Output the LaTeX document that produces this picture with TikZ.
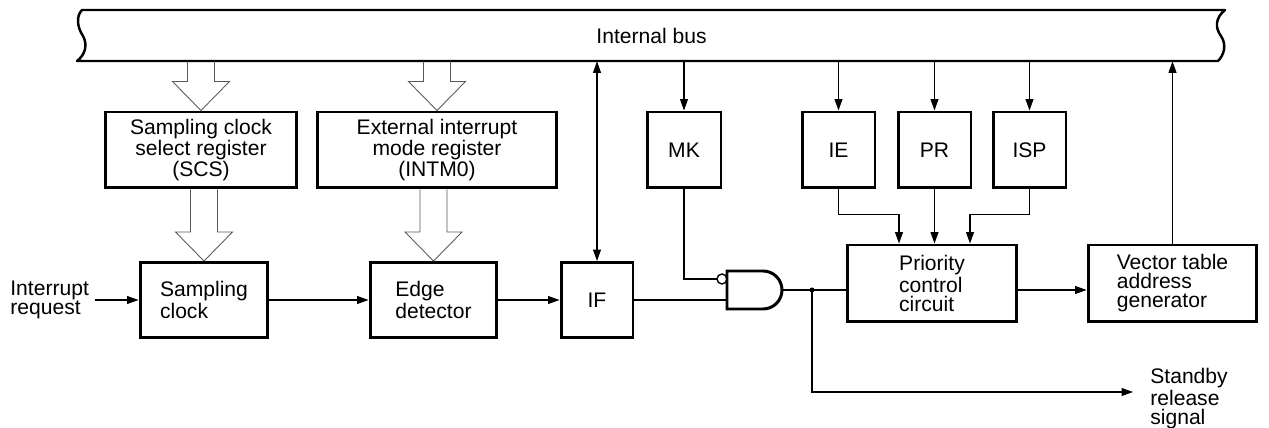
\documentclass[tikz,border=0pt]{standalone}
\usepackage{fontspec}
\setmainfont{Liberation Sans}
\usetikzlibrary{calc,arrows.meta}
\def\fatarrow(#1)(#2){\draw[fatline] ($(#1 -| #2)+(-13.5,0)$) -- ($(#2)+(-13.5,-29)$) -- ++(-15,0) -- (#2) -- ++(28.5,-29) -- ++(-15,0) -- ($(#1 -| #2)+(13.5,0)$);}

\begin{document}
\begin{tikzpicture}[x=0.02cm, y=-0.02cm,
		every node/.style={font=\fontsize{12}{10.8}\selectfont},
		box/.style={draw, line width=1.7pt, minimum height=1.52cm, inner sep=0pt},
		wire/.style={line width=0.6pt},
		conn/.style={line width=0.6pt, -{Triangle[length=6.5pt,width=4.5pt]}},
		fatline/.style={line width=0.5pt, draw=black!65}]
		%%%%% START %%%%%
		\useasboundingbox (0,0) rectangle (1269,428);
		
		\draw[line width=1.4pt, line join=round] (82,10) -- (1225,10) .. controls (1215,18) and (1215,28) .. (1221,36) .. controls (1227,45) and (1224,55) .. (1218,61) -- (77,61) .. controls (85,55) and (88,45) .. (83,36) .. controls (77,27) and (76,16) .. (82,10) -- cycle;
		\node[inner sep=0pt, minimum width=22.86cm, minimum height=1.02cm] (bus) at (651.5,35.5) {Internal bus};
		
		\node[box, minimum width=3.84cm, align=center] (scs) at (201,150) {Sampling clock\\select register\\(SCS)};
		\node[box, minimum width=4.8cm, align=center] (intm) at (437,150) {External interrupt\\mode register\\(INTM0)};
		\node[box, minimum width=1.48cm] (mk) at (684,150) {MK};
		\node[box, minimum width=1.46cm] (ie) at (838.5,150) {IE};
		\node[box, minimum width=1.46cm] (pr) at (934.5,150) {PR};
		\node[box, minimum width=1.46cm] (isp) at (1029.5,150) {ISP};
		
		\node[box, minimum width=2.56cm, minimum height=1.5cm, align=left] (samp) at (204,300) {Sampling\\clock};
		\node[box, minimum width=2.54cm, minimum height=1.5cm, align=left] (edge) at (433.5,300) {Edge\\detector};
		\node[box, minimum width=1.44cm, minimum height=1.5cm] (if) at (597,300) {IF};
		\node[box, minimum width=3.4cm, minimum height=1.54cm, align=left] (prio) at (932,283.5) {Priority\\control\\circuit};
		\node[box, minimum width=3.38cm, minimum height=1.54cm, align=left] (vec) at (1172.5,283.5) {Vector table\\address\\generator};
		
		\node[inner sep=0pt, anchor=west, align=left] (irq) at (10,300) {Interrupt\\request};
		\node[inner sep=0pt, anchor=north west, align=left] (stby) at (1150,368) {Standby\\release\\signal};
		
		% and gate with inverted input
		\coordinate (andin1) at (717,279);
		\coordinate (andin2) at (727,300);
		\coordinate (andout) at (782,290);
		\coordinate (tap) at (812,290);
		\coordinate (stbyend) at (1133,392);
		\draw[line width=1.7pt] (727,271) -- (763,271) arc (-90:90:19) -- (727,309) -- cycle;
		\draw[line width=0.8pt] (722,279) circle (5);
		
		\fatarrow(bus.south)(scs.north)
		\fatarrow(bus.south)(intm.north)
		\fatarrow(scs.south)(samp.north)
		\fatarrow(intm.south)(edge.north)
		
		\foreach \reg in {mk,ie,pr,isp}
		\draw[conn] (bus.south -| \reg.north) -- (\reg.north);
		\draw[conn, {Triangle[length=6.5pt,width=4.5pt]}-{Triangle[length=6.5pt,width=4.5pt]}] (if.north) -- (bus.south -| if.north);
		\draw[conn] (vec.north) -- (bus.south -| vec.north);
		
		\draw[conn] ($(irq.east |- samp.west)+(6,0)$) -- (samp.west);
		\draw[conn] (samp.east) -- (edge.west);
		\draw[conn] (edge.east) -- (if.west);
		\draw[wire] (if.east) -- (if.east -| andin2);
		\draw[wire] (mk.south) |- (andin1);
		\draw[wire] (andout) -- (andout -| prio.west);
		\fill (tap) circle (2.5);
		\draw[conn] (tap) |- (stbyend);
		\draw[conn] (prio.east |- andout) -- (vec.west |- andout);
		
		\draw[conn] (ie.south) -- ++(0,25) -| ($(prio.north)+(-33,0)$);
		\draw[conn] (pr.south) -- (pr.south |- prio.north);
		\draw[conn] (isp.south) -- ++(0,25) -| ($(prio.north)+(38,0)$);
		%%%%% END %%%%%
\end{tikzpicture}
\end{document}
